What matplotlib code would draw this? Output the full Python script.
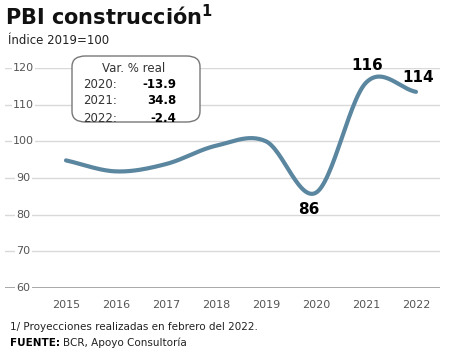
import numpy as np
from matplotlib import pyplot as plt
from matplotlib.patches import FancyBboxPatch

years = [2015, 2016, 2017, 2018, 2019, 2020, 2021, 2022]
index = [94.8, 91.8, 93.8, 98.8, 100.0, 86.0, 116.0, 113.5]
var_years = ['2020:', '2021:', '2022:']
var_values = ['-13.9', '34.8', '-2.4']
yticks = [60, 70, 80, 90, 100, 110, 120]


def smooth(x, y, n=30):
    # cubic hermite so the curve passes through every point
    x = np.asarray(x, float)
    y = np.asarray(y, float)
    m = np.gradient(y, x)
    xs, ys = [], []
    for i in range(len(x) - 1):
        t = np.linspace(0, 1, n)
        h = x[i + 1] - x[i]
        h00 = 2 * t**3 - 3 * t**2 + 1
        h10 = t**3 - 2 * t**2 + t
        h01 = -2 * t**3 + 3 * t**2
        h11 = t**3 - t**2
        xs.append(x[i] + t * h)
        ys.append(h00 * y[i] + h10 * h * m[i] + h01 * y[i + 1] + h11 * h * m[i + 1])
    return np.concatenate(xs), np.concatenate(ys)


fig = plt.figure(figsize=(4.49, 3.52), dpi=100)
ax = fig.add_axes([5 / 449, 64 / 352, 435 / 449, 220 / 352])

grey = '#555555'
for v in yticks:
    ax.axhline(v, color='#9a9a9a' if v == 60 else '#d9d9d9', lw=1.2 if v == 60 else 1.0, zorder=1)
    ax.text(2014.15, v, str(v), ha='center', va='center', fontsize=8, color=grey,
            bbox=dict(fc='white', ec='none', pad=1), zorder=2)

sx, sy = smooth(years, index)
ax.plot(sx, sy, color='#5b86a0', lw=3, solid_capstyle='round', clip_on=False, zorder=3)

ax.set_xlim(2013.78, 2022.48)
ax.set_ylim(60, 120)
ax.set_xticks(years)
ax.set_xticklabels([str(y) for y in years], fontsize=8, color=grey)
ax.tick_params(axis='x', length=0, pad=9)
ax.set_yticks([])
for s in ax.spines.values():
    s.set_visible(False)

ax.text(2019.85, 83.5, '86', ha='center', va='top', fontsize=11, fontweight='bold')
ax.text(2021.02, 118.5, '116', ha='center', va='bottom', fontsize=11, fontweight='bold')
ax.text(2022.05, 115.5, '114', ha='center', va='bottom', fontsize=11, fontweight='bold')

# variation box
box = FancyBboxPatch((72 / 449, 230 / 352), 128 / 449, 66 / 352,
                     boxstyle='round,pad=0,rounding_size=0.03', transform=fig.transFigure,
                     fc='white', ec='#777777', lw=1.0, zorder=1)
fig.patches.append(box)
fig.text(134 / 449, 1 - 68 / 352, 'Var. % real', ha='center', va='center', fontsize=8.5,
         color='#333333', zorder=5)
for i, (yr, val) in enumerate(zip(var_years, var_values)):
    yy = 1 - (84 + i * 17) / 352
    fig.text(83 / 449, yy, yr, ha='left', va='center', fontsize=8.5, color='#333333', zorder=5)
    fig.text(176 / 449, yy, val, ha='right', va='center', fontsize=8.5, fontweight='bold', zorder=5)

fig.text(5 / 449, 1 - 17 / 352, 'PBI construcción$^{\\mathbf{1}}$', ha='left', va='center',
         fontsize=15, fontweight='bold', color='#111111')
fig.text(8 / 449, 1 - 40 / 352, 'Índice 2019=100', ha='left', va='center', fontsize=8.5, color='#222222')
fig.text(10 / 449, 1 - 327 / 352, '1/ Proyecciones realizadas en febrero del 2022.', ha='left',
         va='center', fontsize=7.5, color='#222222')
src = fig.text(10 / 449, 1 - 343 / 352, 'FUENTE:', ha='left', va='center', fontsize=7.5, fontweight='bold')
fig.canvas.draw()
bb = src.get_window_extent().transformed(fig.transFigure.inverted())
fig.text(bb.x1 + 3 / 449, 1 - 343 / 352, 'BCR, Apoyo Consultoría', ha='left', va='center',
         fontsize=7.5, color='#222222')

fig.savefig('out.png', dpi=100)
